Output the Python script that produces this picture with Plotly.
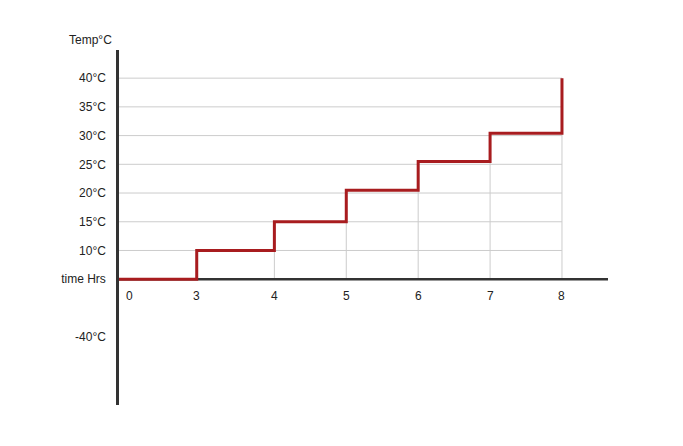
import plotly.graph_objects as go

# ---- data ----
hour_labels = ["0", "3", "4", "5", "6", "7", "8"]
hour_pos = [1.99, 2.92, 4, 5, 6, 7, 8]          # where each hour label sits on the x scale
step_hours = [2.92, 4, 5, 6, 7, 8]               # hours at which temperature steps up
step_temps = [10, 15, 20.5, 25.5, 30.4, 40]      # temperature after each step (°C)
baseline = 5                                     # level of the time axis

temp_ticks = [5, 10, 15, 20, 25, 30, 35, 40]
temp_labels = ["time Hrs", "10°C", "15°C", "20°C", "25°C", "30°C", "35°C", "40°C"]
neg_tick = -5
neg_label = "-40°C"

X0, X1 = 1.839, 8.64
Y0, Y1 = -16.9, 44.9

RED = "#a81c1f"
AXIS = "#333333"
GRID = "#cccccc"
TXT = "#222222"
FONT = "Liberation Sans, Arial, sans-serif"

fig = go.Figure()

# step line (hv)
xs = [X0] + step_hours
ys = [baseline] + step_temps
fig.add_trace(go.Scatter(x=xs, y=ys, mode="lines", line=dict(color=RED, width=3, shape="hv"),
                         hoverinfo="skip", showlegend=False))

shapes = []
# horizontal grid lines
for t in temp_ticks[1:]:
    shapes.append(dict(type="line", xref="x", yref="y", x0=X0, x1=step_hours[-1], y0=t, y1=t,
                       line=dict(color=GRID, width=1), layer="below"))
# vertical drop lines
for i, h in enumerate(step_hours):
    if i == 0:
        continue
    top = step_temps[i - 1] if i < len(step_hours) - 1 else temp_ticks[-1]
    shapes.append(dict(type="line", xref="x", yref="y", x0=h, x1=h, y0=baseline, y1=top,
                       line=dict(color=GRID, width=1), layer="below"))
# time axis line
shapes.append(dict(type="line", xref="x", yref="y", x0=X0, x1=X1, y0=baseline, y1=baseline,
                   line=dict(color=AXIS, width=2.5), layer="below"))

annotations = []
for lab, p in zip(hour_labels, hour_pos):
    annotations.append(dict(x=p, y=baseline, xref="x", yref="y", text=lab, showarrow=False,
                            yshift=-17, font=dict(family=FONT, size=12, color=TXT)))
annotations.append(dict(x=0.0, y=Y1, xref="paper", yref="y", text="Temp°C", showarrow=False,
                        xanchor="right", xshift=-5, yshift=10, font=dict(family=FONT, size=12, color=TXT)))

# page body has an 8px margin, so the figure is 8px smaller and margins shifted
fig.update_layout(
    width=675, height=438,
    margin=dict(l=111, r=75, t=42, b=41),
    paper_bgcolor="white", plot_bgcolor="white",
    shapes=shapes, annotations=annotations,
    xaxis=dict(range=[X0, X1], showgrid=False, zeroline=False, showticklabels=False,
               showline=False, fixedrange=True),
    yaxis=dict(range=[Y0, Y1], showgrid=False, zeroline=False,
               tickvals=temp_ticks + [neg_tick], ticktext=temp_labels + [neg_label],
               ticks="outside", ticklen=8, tickcolor="rgba(0,0,0,0)",
               tickfont=dict(family=FONT, size=12, color=TXT),
               showline=True, linecolor=AXIS, linewidth=2.5, fixedrange=True),
)

fig.write_html("out.html")
